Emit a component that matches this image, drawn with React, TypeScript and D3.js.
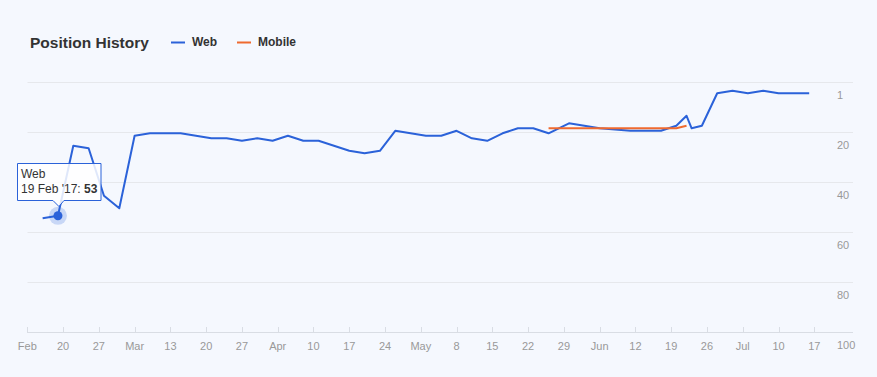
import React from "react";
import * as d3 from "d3";

const webDates = [
  "2017-02-16","2017-02-19","2017-02-22","2017-02-25","2017-02-28","2017-03-03",
  "2017-03-06","2017-03-09","2017-03-12","2017-03-15","2017-03-18","2017-03-21",
  "2017-03-24","2017-03-27","2017-03-30","2017-04-02","2017-04-05","2017-04-08",
  "2017-04-11","2017-04-14","2017-04-17","2017-04-20","2017-04-23","2017-04-26",
  "2017-04-29","2017-05-02","2017-05-05","2017-05-08","2017-05-11","2017-05-14",
  "2017-05-17","2017-05-20","2017-05-23","2017-05-26","2017-05-30","2017-06-05",
  "2017-06-11","2017-06-17","2017-06-20","2017-06-22","2017-06-23","2017-06-25",
  "2017-06-28","2017-07-01","2017-07-04","2017-07-07","2017-07-10","2017-07-16",
];
const webValues = [
  54, 53, 25, 26, 45, 50,
  21, 20, 20, 20, 21, 22,
  22, 23, 22, 23, 21, 23,
  23, 25, 27, 28, 27, 19,
  20, 21, 21, 19, 22, 23,
  20, 18, 18, 20, 16, 18,
  19, 19, 17, 13, 18, 17,
  4, 3, 4, 3, 4, 4,
];
const mobileDates = ["2017-05-26", "2017-06-20", "2017-06-22"];
const mobileValues = [18, 18, 17];

const yTicks = [0, 20, 40, 60, 80, 100];
const yTickLabels = ["1", "20", "40", "60", "80", "100"];

const tooltipDate = "2017-02-19";
const tooltipSeries = "Web";
const tooltipLabel = "19 Feb '17: ";
const tooltipValue = 53;

const W = 877;
const H = 377;
const BLUE = "#2b62d9";
const ORANGE = "#ef6a2f";
const BG = "#f5f8fe";
const FONT = "'Liberation Sans', Arial, Helvetica, sans-serif";

const parse = d3.utcParse("%Y-%m-%d");
const monthFmt = d3.utcFormat("%b");
const dayFmt = d3.utcFormat("%-d");

export default function App() {
  const x = d3
    .scaleUtc()
    .domain([parse("2017-02-13")!, parse("2017-07-17")!])
    .range([27.3, 814.3]);
  const y = d3.scaleLinear().domain([0, 100]).range([83.3, 333.3]);
  const plotLeft = 27.5;
  const plotRight = 853;

  const web = webDates.map((d, i) => ({ d: parse(d)!, v: webValues[i] }));
  const mobile = mobileDates.map((d, i) => ({ d: parse(d)!, v: mobileValues[i] }));
  const line = d3
    .line<{ d: Date; v: number }>()
    .x((p) => x(p.d))
    .y((p) => y(p.v));

  const ticks = d3.utcMonday.range(parse("2017-02-13")!, parse("2017-07-18")!);
  const tickLabels = ticks.map((t, i) => {
    if (i === 0 || t.getUTCMonth() !== ticks[i - 1].getUTCMonth()) return monthFmt(t);
    return dayFmt(t);
  });

  const tx = x(parse(tooltipDate)!);
  const ty = y(tooltipValue);
  const boxL = 17.5;
  const boxR = 101;
  const boxT = 163.5;
  const boxB = 200.5;
  const tipX = tx + 1;
  const tooltipPath = `M${boxL},${boxT} H${boxR} V${boxB} H${tipX + 5} L${tipX},${boxB + 6} L${tipX - 6},${boxB} H${boxL} Z`;

  return (
    <svg
      width={W}
      height={H}
      style={{ position: "absolute", left: 0, top: 0, display: "block" }}
      fontFamily={FONT}
    >
      <rect x={0} y={0} width={W} height={H} fill={BG} />
      <text x={30} y={48} fontSize={15.5} fontWeight="bold" fill="#333">
        Position History
      </text>
      <line x1={171} x2={185} y1={42.5} y2={42.5} stroke={BLUE} strokeWidth={2} />
      <text x={192} y={46} fontSize={12} fontWeight="bold" fill="#333">
        Web
      </text>
      <line x1={237} x2={251} y1={42.5} y2={42.5} stroke={ORANGE} strokeWidth={2} />
      <text x={258} y={46} fontSize={12} fontWeight="bold" fill="#333">
        Mobile
      </text>

      {yTicks.slice(0, -1).map((t) => (
        <line
          key={t}
          x1={plotLeft}
          x2={plotRight}
          y1={Math.round(y(t)) - 0.5}
          y2={Math.round(y(t)) - 0.5}
          stroke="#e6e8ec"
          strokeWidth={1}
        />
      ))}
      <line
        x1={plotLeft}
        x2={plotRight}
        y1={Math.round(y(100)) - 0.5}
        y2={Math.round(y(100)) - 0.5}
        stroke="#d9dde4"
        strokeWidth={1}
      />
      {yTicks.map((t, i) => (
        <text key={t} x={837} y={y(t) + 16} fontSize={11} fill="#999">
          {yTickLabels[i]}
        </text>
      ))}
      {ticks.map((t, i) => (
        <g key={i}>
          <line
            x1={Math.round(x(t)) + 0.5}
            x2={Math.round(x(t)) + 0.5}
            y1={327}
            y2={333}
            stroke="#d9dde4"
          />
          <text x={x(t)} y={349.5} fontSize={11} fill="#999" textAnchor="middle">
            {tickLabels[i]}
          </text>
        </g>
      ))}

      <path d={line(web) || ""} fill="none" stroke={BLUE} strokeWidth={2} strokeLinejoin="round" />
      <path d={line(mobile) || ""} fill="none" stroke={ORANGE} strokeWidth={2} strokeLinejoin="round" />

      <circle cx={tx} cy={ty} r={9} fill={BLUE} opacity={0.22} />
      <circle cx={tx} cy={ty} r={4.5} fill={BLUE} />

      <path d={tooltipPath} fill="#ffffff" fillOpacity={0.85} stroke={BLUE} strokeWidth={1} />
      <text x={21} y={177.5} fontSize={12} fill="#333">
        {tooltipSeries}
      </text>
      <text x={21} y={193} fontSize={12} fill="#333">
        {tooltipLabel}
        <tspan fontWeight="bold">{tooltipValue}</tspan>
      </text>
    </svg>
  );
}
